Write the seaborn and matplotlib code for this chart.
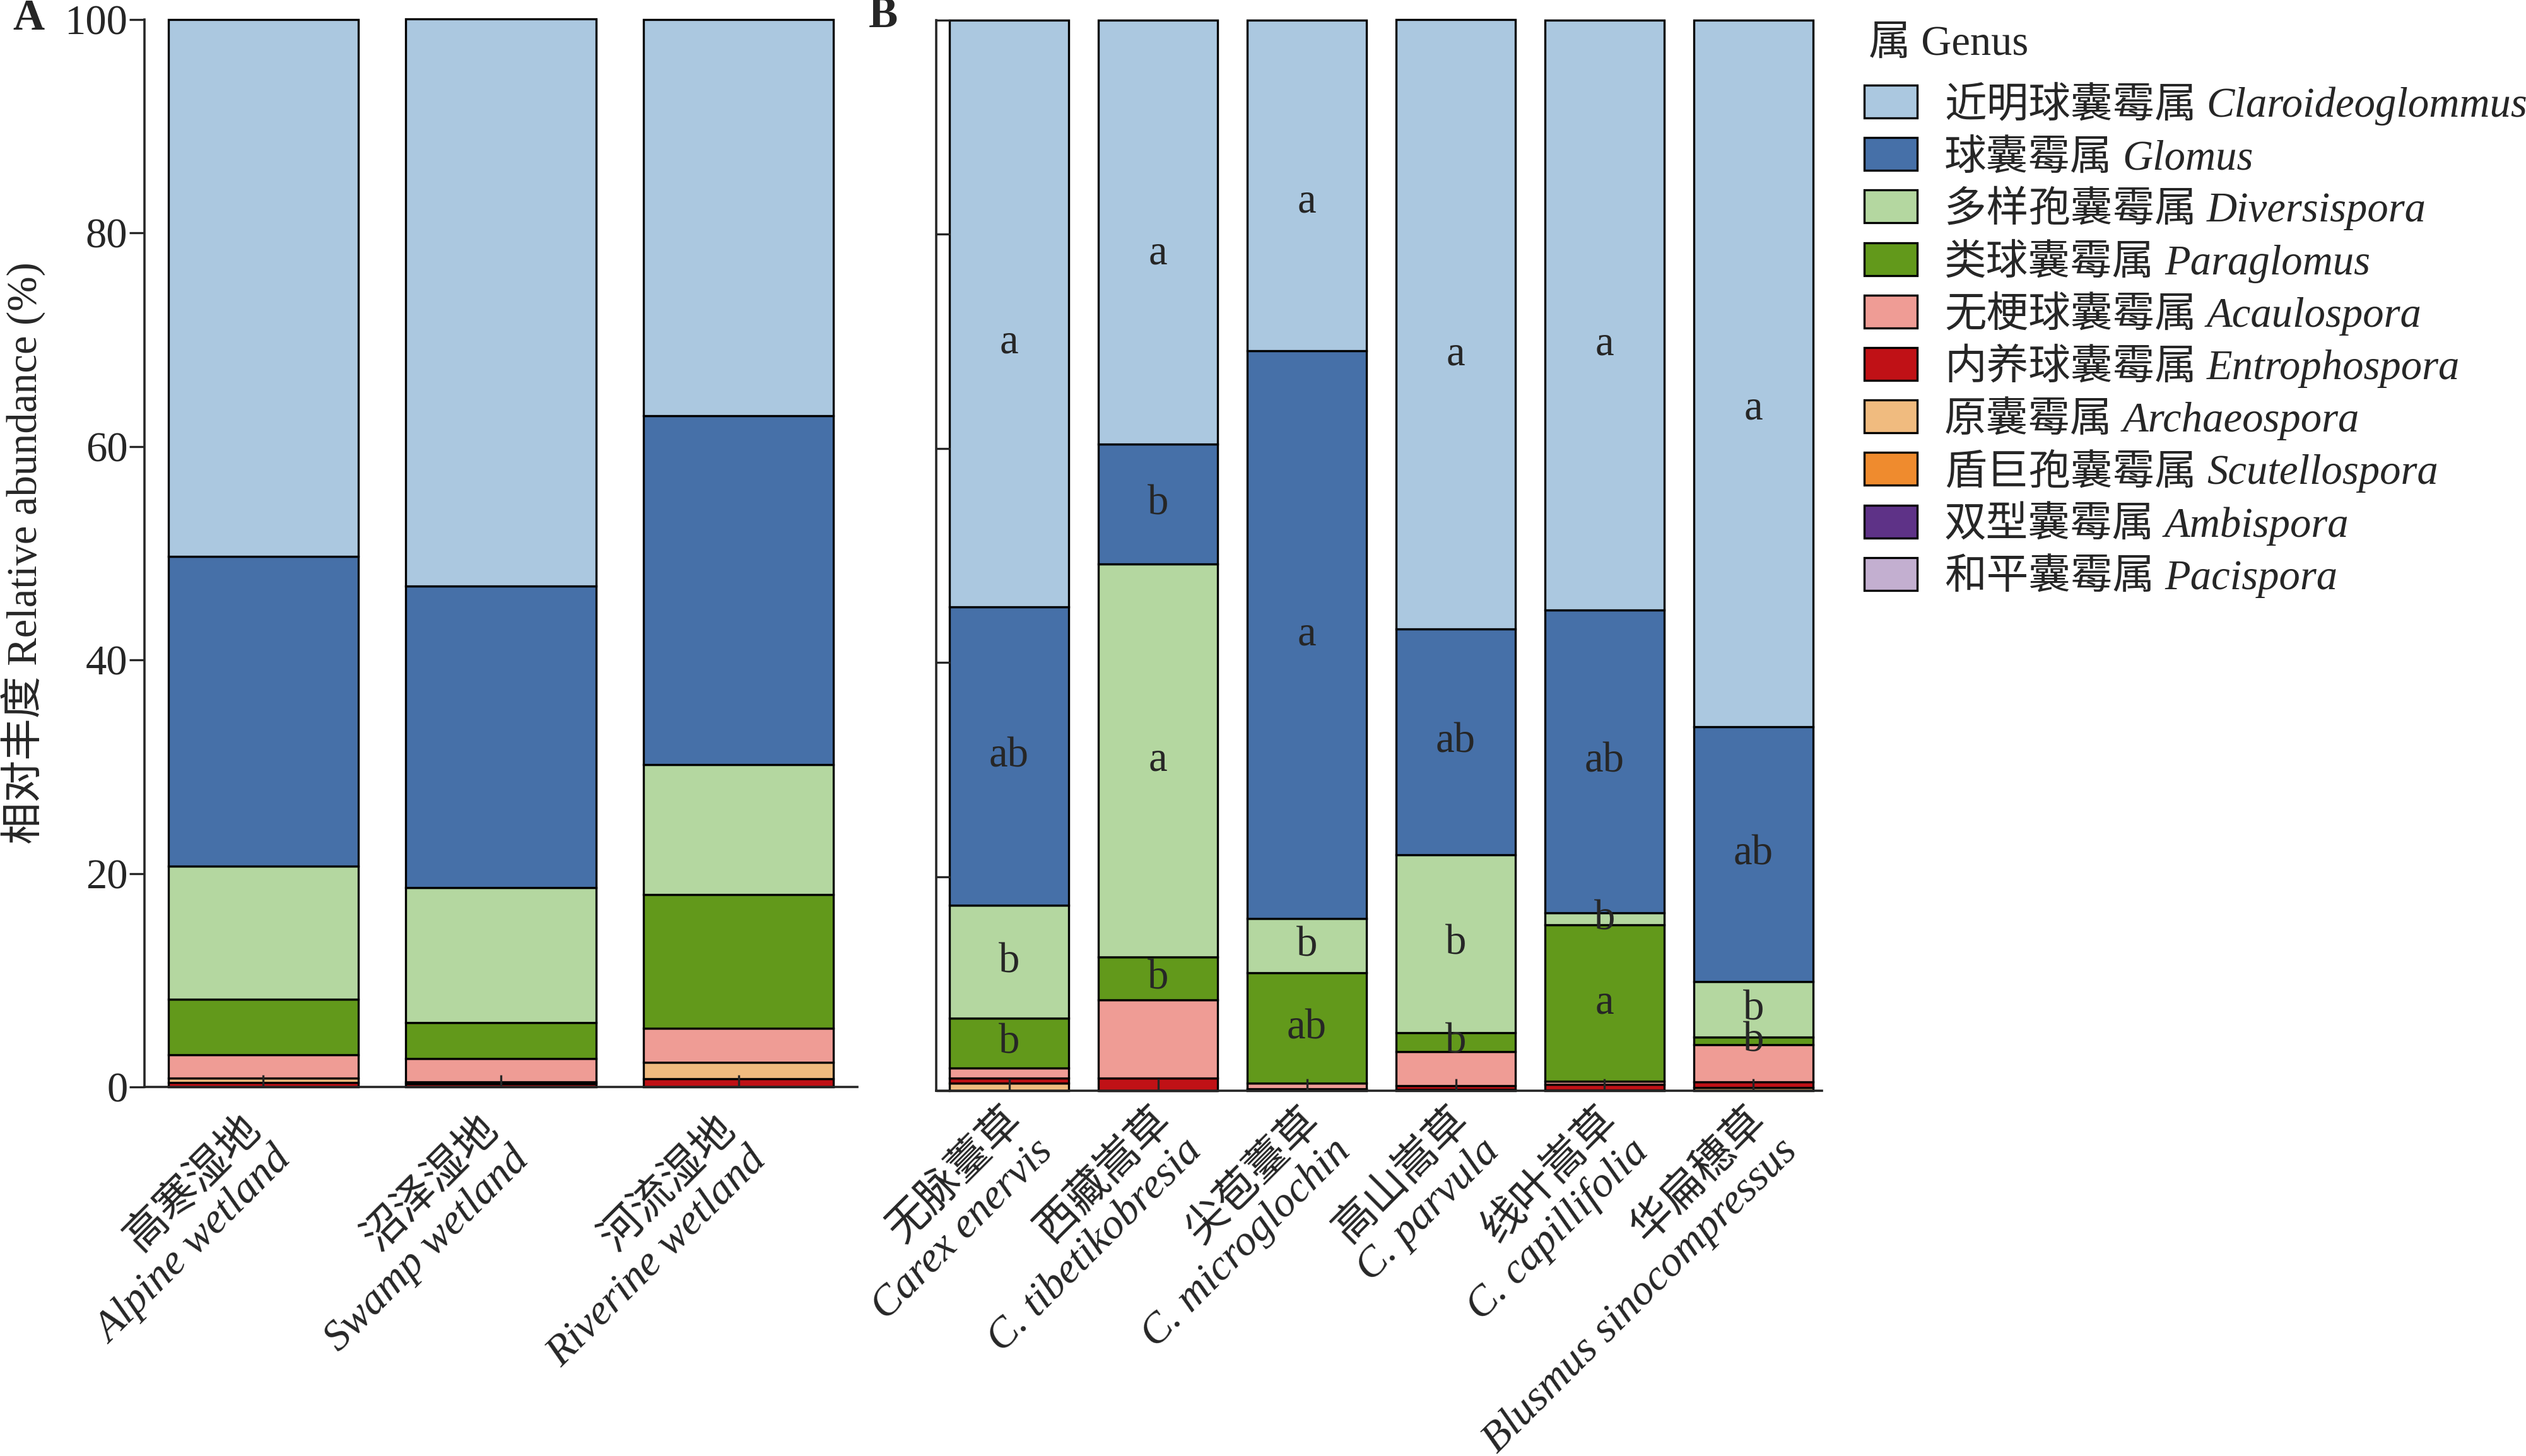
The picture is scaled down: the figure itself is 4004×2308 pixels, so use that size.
import numpy as np
import matplotlib
matplotlib.use('Agg')
import matplotlib.pyplot as plt
import matplotlib.patches as mpatches
from matplotlib.transforms import ScaledTranslation
import seaborn as sns

sns.set_style('ticks')
plt.rcParams['font.family'] = ['Liberation Serif', 'Noto Sans CJK SC']
plt.rcParams['axes.unicode_minus'] = False

# genus names, legend order
genus_latin = ['Claroideoglommus', 'Glomus', 'Diversispora', 'Paraglomus', 'Acaulospora',
               'Entrophospora', 'Archaeospora', 'Scutellospora', 'Ambispora', 'Pacispora']
genus_cn = ['近明球囊霉属', '球囊霉属', '多样孢囊霉属', '类球囊霉属', '无梗球囊霉属',
            '内养球囊霉属', '原囊霉属', '盾巨孢囊霉属', '双型囊霉属', '和平囊霉属']
genus_colors = ['#abc8e0', '#4670a8', '#b4d7a0', '#62991b', '#ef9c95',
                '#c01116', '#f0bb7f', '#ef8b2e', '#5e3287', '#c3afd0']

# panel A: wetland types
habitats = ['高寒湿地\nAlpine wetland', '沼泽湿地\nSwamp wetland', '河流湿地\nRiverine wetland']
a_claroideo = [50.3, 53.1, 37.1]
a_glomus = [29.0, 28.3, 32.7]
a_divers = [12.5, 12.6, 12.2]
a_paragl = [5.2, 3.4, 12.5]
a_acaulo = [2.2, 2.2, 3.2]
a_entro = [0.4, 0.3, 0.75]
a_archaeo = [0.4, 0.15, 1.55]

# panel B: host plants
plants = ['无脉薹草\nCarex enervis', '西藏嵩草\nC. tibetikobresia', '尖苞薹草\nC. microglochin',
          '高山嵩草\nC. parvula', '线叶嵩草\nC. capillifolia', '华扁穗草\nBlusmus sinocompressus']
b_claroideo = [54.8, 39.6, 30.9, 56.9, 55.1, 66.0]
b_glomus = [27.9, 11.2, 53.0, 21.1, 28.3, 23.8]
b_divers = [10.5, 36.7, 5.1, 16.6, 1.1, 5.2]
b_paragl = [4.7, 4.0, 10.3, 1.8, 14.6, 0.7]
b_acaulo = [0.9, 7.3, 0.5, 3.2, 0.3, 3.5]
b_entro = [0.5, 1.2, 0.1, 0.35, 0.55, 0.5]
b_archaeo = [0.7, 0.0, 0.1, 0.1, 0.05, 0.3]

# significance letters in panel B
b_letters = {
    'Claroideoglommus': ['a', 'a', 'a', 'a', 'a', 'a'],
    'Glomus': ['ab', 'b', 'a', 'ab', 'ab', 'ab'],
    'Diversispora': ['b', 'a', 'b', 'b', 'b', 'b'],
    'Paraglomus': ['b', 'b', 'ab', 'b', 'a', 'b'],
}

color_of = dict(zip(genus_latin, genus_colors))
table_a = {'Entrophospora': a_entro, 'Archaeospora': a_archaeo, 'Acaulospora': a_acaulo,
           'Paraglomus': a_paragl, 'Diversispora': a_divers, 'Glomus': a_glomus,
           'Claroideoglommus': a_claroideo}
table_b = {'Archaeospora': b_archaeo, 'Entrophospora': b_entro, 'Acaulospora': b_acaulo,
           'Paraglomus': b_paragl, 'Diversispora': b_divers, 'Glomus': b_glomus,
           'Claroideoglommus': b_claroideo}

LW = 1.2
FS = 24
W, H = 4005, 2308
DPI = 200

fig = plt.figure(figsize=(W / DPI, H / DPI), dpi=DPI)
axA = fig.add_axes([229 / W, 1 - 1723 / H, 1130 / W, 1692 / H])
axB = fig.add_axes([1484 / W, 1 - 1729 / H, 1404 / W, 1697 / H])


def stacked(ax, cats, table):
    bottom = np.zeros(len(cats))
    spans = {}
    for g, vals in table.items():
        vals = np.array(vals, dtype=float)
        sns.barplot(x=cats, y=vals, order=cats, bottom=bottom, color=color_of[g],
                    saturation=1, width=0.8, edgecolor='black', linewidth=LW,
                    errorbar=None, ax=ax)
        spans[g] = (bottom.copy(), vals)
        bottom = bottom + vals
    for p in ax.patches:
        p.set_clip_on(False)
    return spans


stacked(axA, habitats, table_a)
spans_b = stacked(axB, plants, table_b)

for g, labs in b_letters.items():
    low, vals = spans_b[g]
    frac = 0.45 if g == 'Claroideoglommus' else 0.5
    for i, lab in enumerate(labs):
        axB.text(i, low[i] + frac * vals[i], lab, ha='center', va='center', fontsize=FS)

for ax, cats, xr in [(axA, habitats, (-0.5, 2.5)), (axB, plants, (-0.49, 5.46))]:
    ax.set_xlim(*xr)
    ax.set_ylim(0, 100)
    ax.set_axisbelow(False)
    sns.despine(ax=ax)
    for s in ['left', 'bottom']:
        ax.spines[s].set_linewidth(1.3)
    ax.set_xlabel('')
    ax.set_ylabel('')
    ax.set_xticks(range(len(cats)))
    ax.set_xticklabels(cats, rotation=45, ha='right', va='center',
                       rotation_mode='anchor', style='italic', fontsize=24.5)
    ax.tick_params(axis='x', direction='in', length=6.8, width=1.2, pad=0)
    for lab in ax.get_xticklabels():
        lab.set_multialignment('right')
        lab.set_linespacing(1.15)

axA.set_yticks([0, 20, 40, 60, 80, 100])
axA.tick_params(axis='y', direction='out', length=8.6, width=1.2, pad=1, labelsize=FS)
axB.set_yticks([0, 20, 40, 60, 80, 100])
axB.tick_params(axis='y', direction='in', length=8, width=1.2, labelleft=False)

# shift rotated category labels like the original layout
offA = ScaledTranslation(10 / DPI, -82 / DPI, fig.dpi_scale_trans)
offB = ScaledTranslation(35 / DPI, -62 / DPI, fig.dpi_scale_trans)
for lab in axA.get_xticklabels():
    lab.set_transform(lab.get_transform() + offA)
for lab in axB.get_xticklabels():
    lab.set_transform(lab.get_transform() + offB)

fig.text(37 / W, 1 - 877 / H, '相对丰度 Relative abundance (%)', rotation=90,
         ha='center', va='center', fontsize=FS)
fig.text(45 / W, 1 - 30 / H, 'A', ha='center', va='center', fontsize=25, fontweight='bold')
fig.text(1400 / W, 1 - 26 / H, 'B', ha='center', va='center', fontsize=25, fontweight='bold')

# legend built by hand: Chinese name upright, Latin name in italics
fig.text(2962 / W, 1 - 70 / H, '属 Genus', ha='left', va='center', fontsize=FS)
cn_texts = []
for i, (cn, col) in enumerate(zip(genus_cn, genus_colors)):
    yc = 161 + 83.2 * i
    fig.add_artist(mpatches.Rectangle((2955 / W, 1 - (yc + 26) / H), 84 / W, 52 / H,
                                      facecolor=col, edgecolor='black', linewidth=LW,
                                      transform=fig.transFigure))
    t = fig.text(3082 / W, 1 - (yc + 24) / H, cn, ha='left', va='baseline', fontsize=FS)
    cn_texts.append((t, yc))

fig.canvas.draw()
renderer = fig.canvas.get_renderer()
for (t, yc), la in zip(cn_texts, genus_latin):
    bb = t.get_window_extent(renderer)
    x1 = bb.x1 / fig.bbox.width
    fig.text(x1 + 16 / W, 1 - (yc + 24) / H, la, ha='left', va='baseline',
             fontsize=FS, style='italic')

fig.savefig('out.png', dpi=DPI)
